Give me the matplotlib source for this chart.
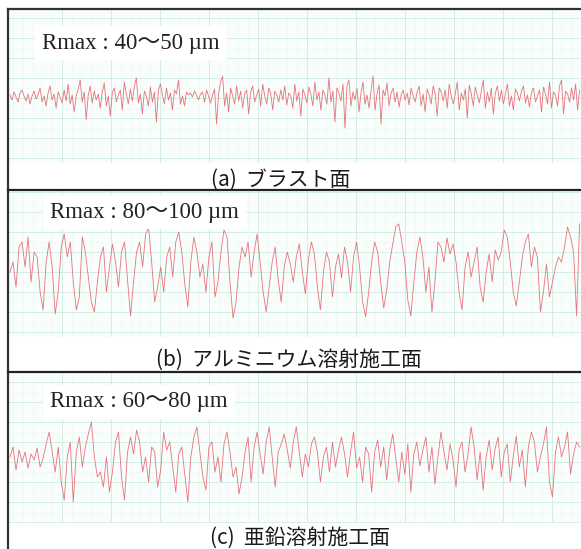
import numpy as np
import matplotlib
matplotlib.use("Agg")
import matplotlib.pyplot as plt
from matplotlib.lines import Line2D

# ---- data (profile heights in µm, sampled along the surface) ----
labels_rmax = ["Rmax : 40〜50 µm", "Rmax : 80〜100 µm", "Rmax : 60〜80 µm"]
captions = ["(a)  ブラスト面", "(b)  アルミニウム溶射施工面", "(c)  亜鉛溶射施工面"]

profile_a = [
    3, -2, 6, 1, -4, 5, 8, 2, -3, 4, -6, 2, 7, -1, 3,
    10, -4, 2, -8, 5, 12, -2, 4, -10, 6, 1, -5, 8, -3, 14,
    -6, 3, -14, 2, 9, 18, -4, 6, -22, 3, 12, -5, 7, -2, 4,
    -10, 6, 15, -8, 2, -18, 5, 10, -4, 3, 8, -12, 16, 4, -6,
    9, -3, 12, 20, -5, 4, -16, 7, 2, -8, 11, -4, 6, -24, 8,
    14, 3, -6, 10, -2, 5, -12, 8, 4, 18, -6, 2, -8, 6, 3,
    5, 1, 7, 3, -2, 4, 6, -4, 8, 2, -5, 3, 9, -26, 4,
    16, 22, -8, 5, -14, 10, 2, -6, 12, -3, 7, -10, 4, 8, -16,
    6, 12, -4, 3, 9, -8, 14, 2, -6, 10, 4, -12, 7, 3, -4,
    8, -2, 12, -7, 5, 2, -10, 14, -3, 6, -18, 9, 3, -5, 11,
    4, -8, 16, -2, 6, -12, 8, 3, -6, 20, -4, 7, -24, 10, 5,
    -3, 14, -30, 12, 18, -8, 6, -2, 10, -14, 5, 16, -6, 3, -10,
    7, 22, -12, 4, 13, -26, 8, 2, 15, -8, 5, 10, -4, 6, -9,
    3, 8, -2, 5, -7, 10, 2, -4, 6, 12, -8, 4, -14, 9, 3,
    -6, 12, 4, -18, 10, 6, -3, 8, -10, 14, 2, -6, 4, 16, -12,
    5, -2, 9, -20, 13, 4, -8, 11, 3, -5, 7, 18, -10, 6, -4,
    10, -16, 5, 12, -3, 8, -6, 4, 14, -8, 2, -12, 9, 5, -3,
    7, 12, -5, 3, -9, 6, 10, -4, 2, 8, -14, 11, 4, -6, 16,
    -10, 6, 3, -8, 12, 18, -16, 7, 4, -4, 10, -2, 14, -12, 8,
]

profile_b = [
    0, 10, -15, 25, 30, 5, 35, -10, 20, 15, -20, -38, 10, 30, 5, -42, -20, 25, 38, 15,
    30, -10, -38, -25, 35, 20, -5, -30, -40, -10, 15, 25, -20, 5, 28, 10, -15, 20, 30, -8,
    -44, -10, 20, 30, 5, 38, 44, 10, -30, -15, 5, -20, 15, 25, -5, 30, 40, 20, -12, -35,
    10, 35, 20, -5, 8, -20, 15, 30, -25, -10, 20, 42, 35, -10, -46, -30, 5, 25, 15, 30,
    -5, 20, 38, 10, -20, -40, -15, 10, 25, -8, -30, 5, 20, 8, -10, 15, 28, 0, -22, 12,
    30, 18, -15, -38, 0, 20, 10, -25, 5, 18, -6, 25, 10, -20, 15, 30, 5, -30, -45, -20,
    10, 30, 20, -10, -36, -18, 10, 28, 45, 48, 30, 10, -28, -44, -10, 20, 35, 15, -20, 5,
    -40, -10, 30, 25, 10, 34, 18, 28, 10, -20, -38, 5, 20, -5, 10, 25, -15, -30, 0, 18,
    -10, 22, 12, 20, 42, 35, 10, -20, -34, -10, 15, 30, 38, 5, 25, 15, -40, -20, 8, -25,
    -10, 5, 15, 10, 25, 45, 35, 20, -44, 48,
]

profile_c = [
    5, 15, -8, 12, 0, 10, -6, 8, 2, 14, -5, 4, 18, 30, 10, -10, 15, -20, -38, 5,
    20, -40, 10, 25, -5, 15, 28, 40, 5, -15, -10, -25, 5, -30, -10, 20, 30, -15, -38, 10,
    25, 8, 32, 20, -10, 5, -20, 15, 10, -25, -8, 30, 12, 20, -5, -30, 8, 15, -12, -40,
    5, 25, 35, 10, -15, -28, 15, 20, -10, 5, -20, 18, 30, 10, -15, -5, -32, -15, 10, 25,
    -20, 15, 30, 8, -12, 20, 35, 5, -25, 10, 18, 28, 12, -6, 20, 35, 10, -15, 8, -5,
    18, 25, 10, -20, 5, 15, -10, 20, -5, 12, 25, 8, -15, 10, 30, -6, 5, -20, 15, 8,
    -30, 10, 22, -5, 15, -18, 12, 28, 4, -20, 10, -12, 18, -30, 8, 20, -4, 12, 25, -10,
    15, -22, 5, 30, 10, -8, 18, 2, -25, 12, 20, -10, 8, 35, 15, -18, 10, -28, 5, 22,
    -8, 14, 25, -15, 10, 18, -20, 6, 26, -5, 12, -25, 15, 30, 20, -10, 5, 18, 35, -20,
    -35, 10, 25, 5, 15, 30, -12, 8, 20, 15,
]

profiles = [profile_a, profile_b, profile_c]

# ---- layout (pixel geometry of the page) ----
W, H = 581, 549
fig = plt.figure(figsize=(W / 100, H / 100), dpi=100)
fig.patch.set_facecolor("white")

# (top px, bottom px of grid, y-range below, y-range above)
panels = [(10, 163, 65, 88), (191, 337, 65, 81), (373, 523, 61, 89)]
caption_y = [180, 360, 538]
caption_x = [281, 289, 300]
rmax_pos = [(42, 43), (50, 212), (50, 402)]

serif = ["Liberation Serif", "Noto Sans CJK JP"]
cjk = ["Noto Sans CJK JP", "DejaVu Sans"]

for k, (top, bot, lo, hi) in enumerate(panels):
    ax = fig.add_axes([9 / W, 1 - bot / H, (W - 9) / W, (bot - top) / H])
    ax.set_facecolor("#f9fdfc")
    y = np.array(profiles[k], dtype=float)
    n = len(y)
    xs = np.linspace(1, W - 10, n)  # sampling positions along the measured length
    ax.plot(xs, y, color="#e5646e", lw=0.6, alpha=0.9)
    ax.set_xlim(0, W - 9)
    ax.set_ylim(-lo, hi)
    ax.set_xticks(np.arange(53, W, 49))
    ax.set_xticks(np.arange(4, W, 9.8), minor=True)
    ax.set_yticks(np.arange(-60, 90, 20))
    ax.set_yticks(np.arange(-60, 90, 10), minor=True)
    ax.grid(which="major", color="#d3eee3", lw=0.7)
    ax.grid(which="minor", color="#eef9f4", lw=0.5)
    ax.set_axisbelow(True)
    ax.tick_params(which="both", length=0, labelleft=False, labelbottom=False)
    for s in ax.spines.values():
        s.set_visible(False)
    rx, ry = rmax_pos[k]
    fig.text(rx / W, 1 - ry / H, labels_rmax[k], family=serif, fontsize=16.5,
             va="center", ha="left", color="#222222",
             bbox=dict(fc="white", ec="none", pad=5))
    fig.text(caption_x[k] / W, 1 - caption_y[k] / H, captions[k], family=cjk,
             fontsize=15, va="center", ha="center", color="#1a1a1a")

# frame lines
lw = 1.6
fig.add_artist(Line2D([8 / W, 1], [1 - 9 / H, 1 - 9 / H], color="#333333", lw=lw))
fig.add_artist(Line2D([8 / W, 8 / W], [0, 1 - 9 / H], color="#333333", lw=lw))
fig.add_artist(Line2D([8 / W, 1], [1 - 190 / H, 1 - 190 / H], color="#222222", lw=lw))
fig.add_artist(Line2D([8 / W, 1], [1 - 372 / H, 1 - 372 / H], color="#222222", lw=lw))

fig.savefig("out.png", dpi=100)
